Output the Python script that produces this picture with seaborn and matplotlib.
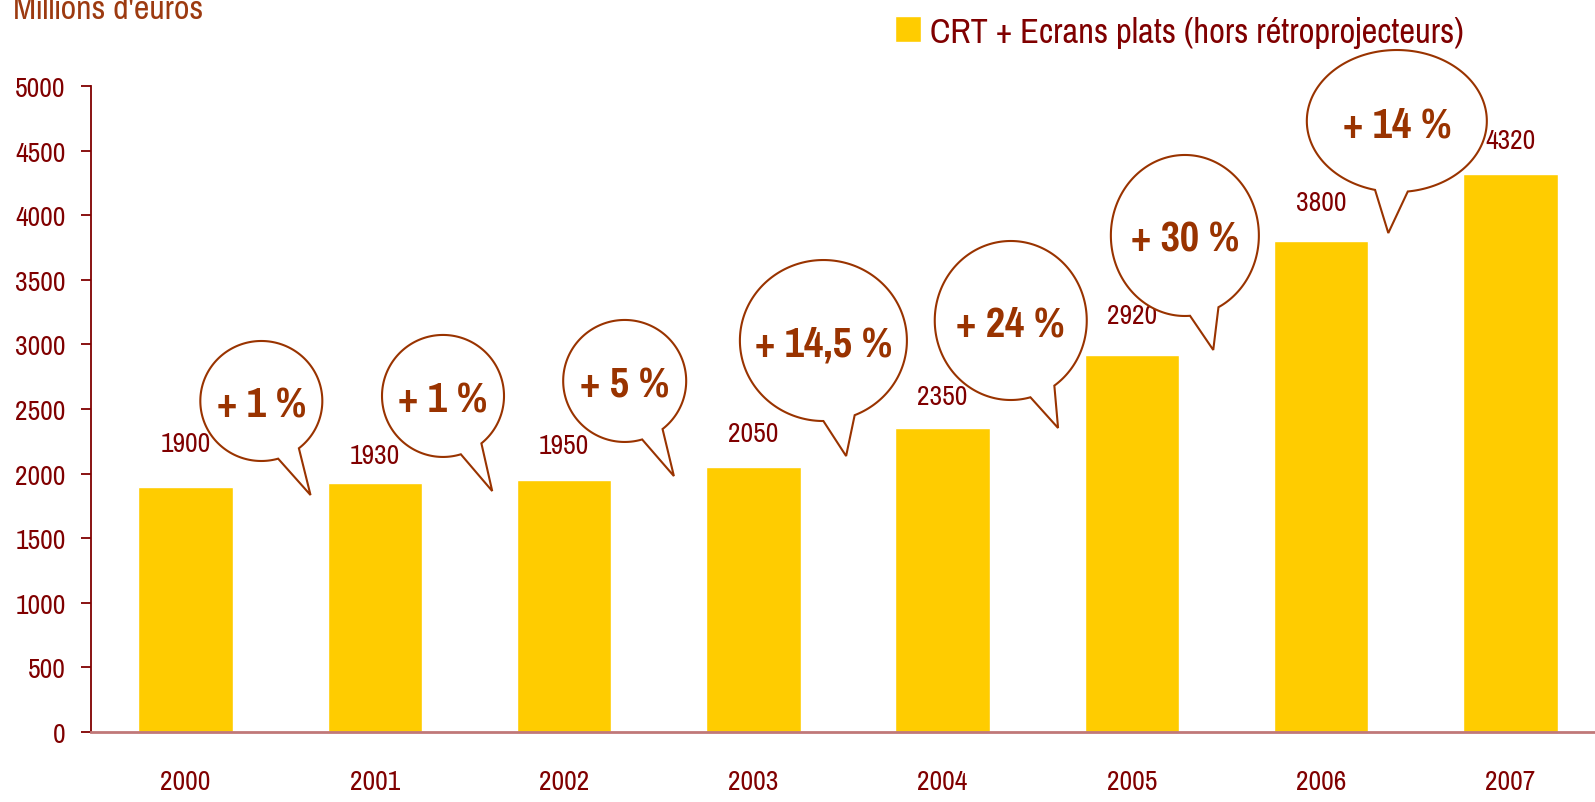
import numpy as np
import pandas as pd
import seaborn as sns
import matplotlib.pyplot as plt
from matplotlib import font_manager
from matplotlib.path import Path
from matplotlib.patches import PathPatch
from matplotlib.transforms import IdentityTransform

sns.set_style("white")


def pick_font(candidates, bold=False):
    for name in candidates:
        for f in font_manager.fontManager.ttflist:
            if f.name == name and f.style == "normal":
                w = f.weight if isinstance(f.weight, int) else 400
                if (bold and w >= 700) or (not bold and w <= 500):
                    return name
    return "DejaVu Sans"


narrow = ["Liberation Sans Narrow", "Pragati Narrow", "PT Sans Narrow",
          "Roboto Condensed", "Archivo Narrow", "Liberation Sans"]
font_reg = pick_font(narrow)
font_bold = pick_font(narrow, bold=True)
plt.rcParams['font.family'] = [font_reg, 'DejaVu Sans']

# data
years = ["2000", "2001", "2002", "2003", "2004", "2005", "2006", "2007"]
values = [1900, 1930, 1950, 2050, 2350, 2920, 3800, 4320]
growth = ["+ 1 %", "+ 1 %", "+ 5 %", "+ 14,5 %", "+ 24 %", "+ 30 %", "+ 14 %"]
series_name = "CRT + Ecrans plats (hors rétroprojecteurs)"

# bubble layout (centre and tail tip in data units, radii in pixels, tail angles in degrees)
bubble_x = [0.40, 1.36, 2.32, 3.37, 4.36, 5.28, 6.40]
bubble_y = [2562, 2601, 2717, 3030, 3185, 3843, 4729]
bubble_rx = [61, 61, 61.5, 83.5, 76, 74, 90]
bubble_ry = [60, 61, 61, 80.5, 79.5, 80.5, 71]
tail_a1 = [-74, -73, -73.5, -90, -75, -86, -104]
tail_a2 = [-52, -51, -52, -68, -55, -63, -83]
tip_x = [0.66, 1.62, 2.58, 3.49, 4.61, 5.43, 6.355]
tip_y = [1834, 1865, 1981, 2136, 2353, 2957, 3862]
label_offset = [43, 27, 35, 34, 32, 39, 39, 33]  # px above bar top

yellow = "#FFCC00"
maroon = "#800000"
brown = "#993300"

df = pd.DataFrame({"year": years, "value": values})

W, H = 1595, 803
fig = plt.figure(figsize=(W / 100, H / 100), dpi=100)
ax = fig.add_axes([91 / W, 70 / H, (1605 - 91) / W, 646 / H])

sns.barplot(data=df, x="year", y="value", color=yellow, saturation=1,
            width=0.5, ax=ax, label=series_name)

ax.set_ylim(0, 5000)
ax.set_xlim(-0.5, 7.5)
ax.set_yticks(np.arange(0, 5001, 500))
ax.set_xlabel("")
ax.set_ylabel("")

for s in ["top", "right"]:
    ax.spines[s].set_visible(False)
ax.spines["left"].set_color(maroon)
ax.spines["left"].set_linewidth(1.3)
ax.spines["bottom"].set_color("#C07878")
ax.spines["bottom"].set_linewidth(2)

ax.set_xticks(np.arange(-0.5, 8, 1), minor=True)
ax.tick_params(axis="x", which="major", length=0, pad=27, labelsize=21.5, labelcolor=maroon)
ax.tick_params(axis="x", which="minor", length=8.6, width=1.3, color=maroon, direction="out")
ax.tick_params(axis="y", length=7.2, width=1.3, color=maroon, pad=11, labelsize=21.5,
               labelcolor=maroon, direction="out", left=True)

# value labels
for i, (v, off) in enumerate(zip(values, label_offset)):
    ax.annotate(str(v), (i, v), xytext=(0, off * 0.72), textcoords="offset points",
                ha="center", va="center", fontsize=21.5, color=maroon)

# speech bubbles
for k in range(len(growth)):
    c = ax.transData.transform((bubble_x[k], bubble_y[k]))
    t = ax.transData.transform((tip_x[k], tip_y[k]))
    th = np.radians(np.linspace(tail_a2[k], tail_a1[k] + 360, 240))
    pts = np.column_stack([c[0] + bubble_rx[k] * np.cos(th),
                           c[1] + bubble_ry[k] * np.sin(th)])
    pts = np.vstack([pts, t, pts[0]])
    codes = [Path.MOVETO] + [Path.LINETO] * (len(pts) - 2) + [Path.CLOSEPOLY]
    patch = PathPatch(Path(pts, codes), facecolor="white", edgecolor=brown,
                      linewidth=1.5, transform=IdentityTransform(), clip_on=False, zorder=4)
    ax.add_patch(patch)
    ax.text(bubble_x[k], bubble_y[k] - 25, growth[k], ha="center", va="center",
            fontsize=33, fontweight="bold", family=[font_bold, 'DejaVu Sans'],
            color=brown, zorder=5, clip_on=False)

# legend
fig.legend(loc="upper left", bbox_to_anchor=(895 / W, 1 - 17 / H), frameon=False,
           fontsize=27, handlelength=0.68, handleheight=0.68, handletextpad=0.25,
           borderpad=0, borderaxespad=0, labelcolor=maroon)
if ax.get_legend() is not None:
    ax.get_legend().remove()

fig.text(13 / W, 1 - 19 / H, "Millions d'euros", ha="left", va="baseline",
         fontsize=26.5, color="#9C3A10")

fig.savefig("out.png", dpi=100)
